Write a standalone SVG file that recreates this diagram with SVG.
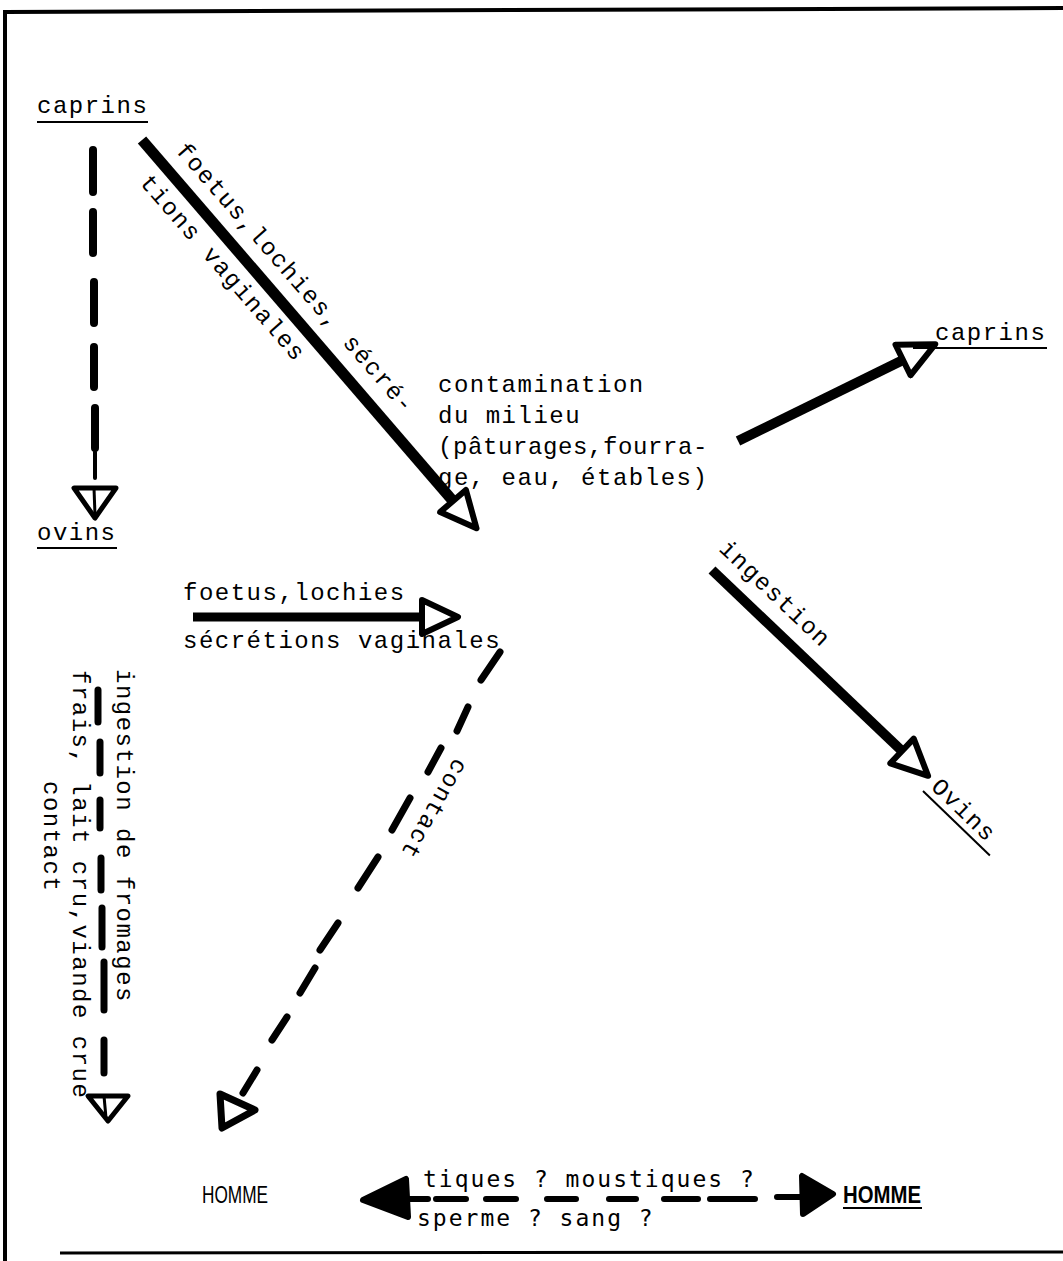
<svg xmlns="http://www.w3.org/2000/svg" width="1063" height="1261" viewBox="0 0 1063 1261">
<style>
.t{font-family:"Liberation Mono","DejaVu Sans Mono",monospace;font-size:24px;letter-spacing:1.5px;fill:#000}
.t2{font-family:"DejaVu Sans Mono","Liberation Mono",monospace;font-size:23px;letter-spacing:2px;fill:#000}
.h{font-family:"Liberation Sans",Arial,sans-serif;font-size:24px;fill:#000}
.ul{stroke:#000;stroke-width:2;fill:none}
.thick{stroke:#000;stroke-width:10;fill:none;stroke-linecap:butt}
.dash{stroke:#000;stroke-width:7;fill:none;stroke-linecap:round}
.ohead{fill:#fff;stroke:#000;stroke-width:5;stroke-linejoin:round}
.fhead{fill:#000;stroke:#000;stroke-width:6;stroke-linejoin:round}
.border{stroke:#000;stroke-width:4;fill:none}
</style>
<defs>
<marker id="open" viewBox="0 0 44 40" refX="4" refY="20" markerWidth="44" markerHeight="40" markerUnits="userSpaceOnUse" orient="auto">
<path d="M4,3 L40,20 L4,37 Z" fill="#fff" stroke="#000" stroke-width="6" stroke-linejoin="round"/>
</marker>
</defs>
<rect width="1063" height="1261" fill="#fff"/>
<g id="frame">
<path class="border" d="M5,1261 L5,12 L1063,8"/>
<path class="border" style="stroke-width:3" d="M60,1253 L1063,1252"/>
</g>

<g id="connectors">
<line class="thick" style="stroke-width:11" x1="142" y1="140" x2="453" y2="501" marker-end="url(#open)"/>
<line class="thick" x1="738" y1="441" x2="903" y2="360" marker-end="url(#open)"/>
<line class="thick" x1="712" y1="570" x2="902" y2="751" marker-end="url(#open)"/>
<line class="thick" style="stroke-width:9" x1="193" y1="617" x2="422" y2="617" marker-end="url(#open)"/>

<g id="caprins-ovins">
<path class="dash" style="stroke-width:8" d="M93,150 L93,192 M93,212 L93,253 M94,282 L94,323 M94,347 L94,387 M95,408 L95,448"/>
<path class="dash" style="stroke-width:4" d="M95,452 L95,478"/>
<polygon class="ohead" points="74,488 116,488 95,518"/>
<line class="ul" style="stroke-width:3" x1="94" y1="488" x2="95" y2="515"/>
</g>

<g id="ingestion-left">
<path class="dash" d="M98,690 L98,722 M100,742 L100,773 M100,800 L100,828 M101,858 L101,890 M102,908 L102,947 M104,962 L104,1010 M104,1040 L104,1073"/>
<polygon class="ohead" points="88,1096 128,1096 108,1121"/>
<line class="ul" style="stroke-width:3" x1="104" y1="1096" x2="106" y2="1118"/>
</g>

<g id="contact-line">
<path class="dash" d="M500,652 L481,680 M468,707 L457,731 M441,748 L428,772 M410,798 L392,830 M378,857 L358,888 M338,923 L320,950 M315,968 L300,993 M287,1017 L272,1040 M257,1070 L243,1093"/>
<polygon class="ohead" style="stroke-width:7" points="220,1094 255,1110 222,1128"/>
</g>

<g id="homme-homme">
<path class="dash" style="stroke-width:6" d="M400,1199 L428,1199 M436,1199 L466,1199 M486,1199 L516,1199 M547,1199 L576,1199 M609,1199 L636,1199 M664,1199 L698,1199 M710,1199 L755,1199 M777,1197 L805,1197"/>
<polygon class="fhead" points="363,1200 406,1179 408,1217"/>
<polygon class="fhead" points="833,1194 802,1176 803,1214"/>
</g>
</g>

<g id="node-caprins-top">
<text class="t" x="37" y="113">caprins</text>
<line class="ul" x1="37" y1="122" x2="148" y2="122"/>
</g>
<g id="node-ovins-left">
<text class="t" x="37" y="540">ovins</text>
<line class="ul" x1="37" y1="548" x2="117" y2="548"/>
</g>
<g id="node-caprins-right">
<text class="t" x="935" y="340">caprins</text>
<line class="ul" x1="913" y1="348" x2="1047" y2="348"/>
</g>
<g id="node-milieu">
<text class="t" x="438" y="392">contamination</text>
<text class="t" x="438" y="423">du milieu</text>
<text class="t" x="438" y="454" style="letter-spacing:0.6px">(pâturages,fourra-</text>
<text class="t" x="438" y="485">ge, eau, étables)</text>
</g>
<g id="node-ovins-right">
<g transform="translate(930,788) rotate(44)">
<text class="t" x="0" y="0">Ovins</text>
<line class="ul" x1="-3" y1="7" x2="90" y2="7"/>
</g>
</g>
<g id="node-homme-left">
<text class="h" x="202" y="1203" textLength="66" lengthAdjust="spacingAndGlyphs">HOMME</text>
</g>
<g id="node-homme-right">
<text class="h" x="843" y="1203" textLength="78" lengthAdjust="spacingAndGlyphs" style="font-weight:bold">HOMME</text>
<line class="ul" x1="843" y1="1208" x2="922" y2="1208"/>
</g>

<g id="labels">
<text class="t" transform="translate(175,151) rotate(49)">foetus,lochies, sécré-</text>
<text class="t" transform="translate(139,183) rotate(49)">tions vaginales</text>
<text class="t" transform="translate(718,550) rotate(43.5)">ingestion</text>
<text class="t" x="183" y="600">foetus,lochies</text>
<text class="t" x="183" y="648">sécrétions vaginales</text>
<text class="t" transform="translate(455,757) rotate(119.5)">contact</text>
<text class="t" transform="translate(117,669) rotate(90)">ingestion de fromages</text>
<text class="t" transform="translate(73,670) rotate(90)">frais, lait cru,viande crue</text>
<text class="t" transform="translate(44,781) rotate(90)">contact</text>
<text class="t2" x="423" y="1187">tiques ? moustiques ?</text>
<text class="t2" x="417" y="1226">sperme ? sang ?</text>
</g>
</svg>
